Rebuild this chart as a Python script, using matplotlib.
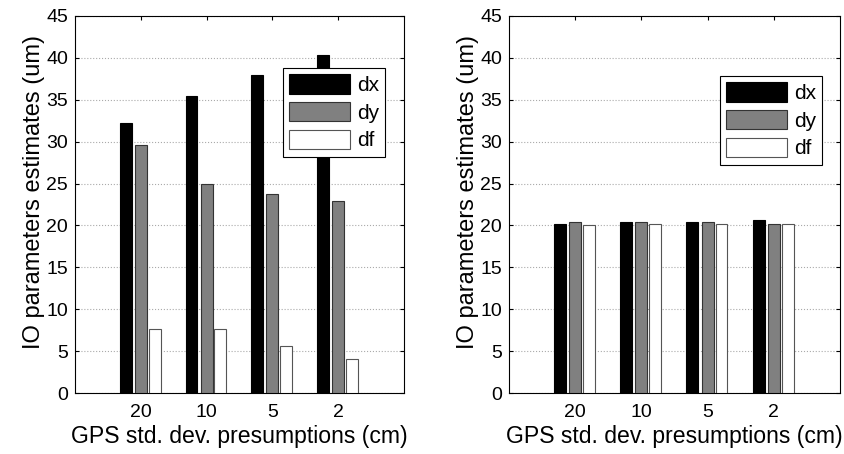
import numpy as np
import matplotlib
matplotlib.use("Agg")
from matplotlib import pyplot as plt

plt.rcParams['font.family'] = ['Liberation Sans', 'DejaVu Sans']

# data
categories = ['20', '10', '5', '2']
left_dx = [32.2, 35.5, 37.9, 40.4]
left_dy = [29.6, 24.9, 23.8, 22.9]
left_df = [7.6, 7.6, 5.6, 4.1]
right_dx = [20.2, 20.4, 20.4, 20.6]
right_dy = [20.4, 20.4, 20.4, 20.2]
right_df = [20.0, 20.2, 20.2, 20.2]

fig = plt.figure(figsize=(8.45, 4.54), dpi=100)
ax1 = fig.add_axes([75/845, 1 - 393/454, 329/845, 377/454])
ax2 = fig.add_axes([509/845, 1 - 393/454, 331/845, 377/454])

def draw(ax, dx, dy, df, legend_anchor):
    x = np.arange(1, len(categories) + 1)
    w = 0.18
    ax.bar(x - 0.23, dx, w, color='black', edgecolor='black', linewidth=0.8, label='dx', zorder=3)
    ax.bar(x, dy, w, color='#808080', edgecolor='#333333', linewidth=0.8, label='dy', zorder=3)
    ax.bar(x + 0.21, df, w, color='white', edgecolor='#555555', linewidth=0.8, label='df', zorder=3)
    ax.set_xlim(0, 5)
    ax.set_ylim(0, 45)
    ax.set_xticks(x)
    ax.set_xticklabels(categories)
    ax.set_yticks(np.arange(0, 46, 5))
    ax.yaxis.grid(True, linestyle=':', color='#aaaaaa', linewidth=0.8, zorder=0)
    ax.set_axisbelow(True)
    ax.tick_params(direction='in', top=True, right=True, labelsize=14, length=3)
    ax.tick_params(axis='x', pad=8)
    ax.tick_params(axis='y', pad=5)
    for s in ax.spines.values():
        s.set_linewidth(0.8)
    ax.set_xlabel('GPS std. dev. presumptions (cm)', fontsize=16.6, labelpad=3)
    ax.set_ylabel('IO parameters estimates (um)', fontsize=17, labelpad=1)
    ax.yaxis.label.set_y(0.534)
    leg = ax.legend(loc='upper left', bbox_to_anchor=legend_anchor, fontsize=15,
                    fancybox=False, framealpha=1, edgecolor='black',
                    handlelength=2.9, handleheight=1.05, handletextpad=0.35,
                    borderpad=0.3, labelspacing=0.33, borderaxespad=0)
    leg.get_frame().set_linewidth(0.8)

draw(ax1, left_dx, left_dy, left_df, ((283 - 75) / 329, (393 - 68) / 377))
draw(ax2, right_dx, right_dy, right_df, ((720 - 509) / 331, (393 - 76) / 377))

fig.savefig('out.png', dpi=100)
